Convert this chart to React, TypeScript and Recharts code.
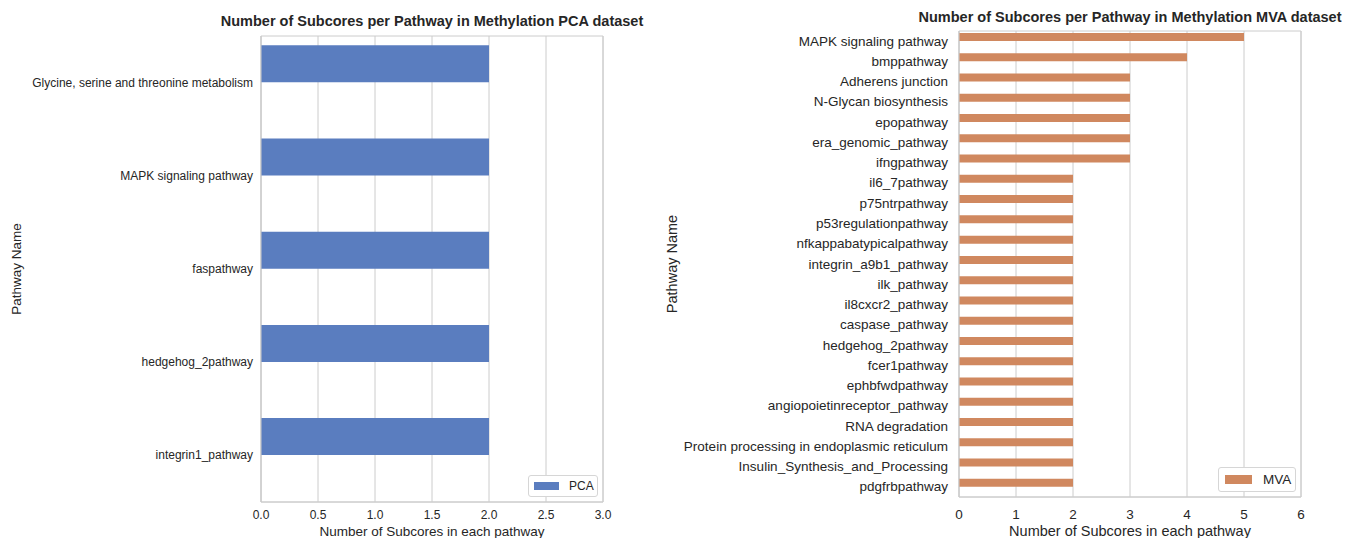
import { Bar, BarChart, CartesianGrid, Legend, ReferenceArea, XAxis, YAxis } from 'recharts'

const FONT = '"Liberation Sans", Arial, Helvetica, sans-serif'
const TEXT = '#262626'
const GRID = '#cccccc'

const pcaPathways = [
  'Glycine, serine and threonine metabolism',
  'MAPK signaling pathway',
  'faspathway',
  'hedgehog_2pathway',
  'integrin1_pathway',
]
const pcaSubcores = [2, 2, 2, 2, 2]
const pcaTicks = [0, 0.5, 1, 1.5, 2, 2.5, 3]

const mvaPathways = [
  'MAPK signaling pathway',
  'bmppathway',
  'Adherens junction',
  'N-Glycan biosynthesis',
  'epopathway',
  'era_genomic_pathway',
  'ifngpathway',
  'il6_7pathway',
  'p75ntrpathway',
  'p53regulationpathway',
  'nfkappabatypicalpathway',
  'integrin_a9b1_pathway',
  'ilk_pathway',
  'il8cxcr2_pathway',
  'caspase_pathway',
  'hedgehog_2pathway',
  'fcer1pathway',
  'ephbfwdpathway',
  'angiopoietinreceptor_pathway',
  'RNA degradation',
  'Protein processing in endoplasmic reticulum',
  'Insulin_Synthesis_and_Processing',
  'pdgfrbpathway',
]
const mvaSubcores = [5, 4, 3, 3, 3, 3, 3, 2, 2, 2, 2, 2, 2, 2, 2, 2, 2, 2, 2, 2, 2, 2, 2]
const mvaTicks = [0, 1, 2, 3, 4, 5, 6]

const toRows = (names: string[], counts: number[]) =>
  names.map((name, i) => ({ name, value: counts[i] }))

const Panel = (props: any) => {
  const {
    title,
    series,
    color,
    rows,
    ticks,
    left,
    width,
    top,
    right,
    yWidth,
    xHeight,
    tickSize,
    labelSize,
    yTickMargin,
    xTickMargin,
    yLabelX,
    xLabelDrop,
    titleTop,
    fmt,
    legend,
  } = props

  const plotWidth = width - yWidth - right
  const lo = ticks[0]
  const hi = ticks[ticks.length - 1]

  const xLabelContent = ({ viewBox }: any) => (
    <text
      x={viewBox.x + viewBox.width / 2}
      y={viewBox.y + xLabelDrop}
      textAnchor="middle"
      fontSize={labelSize}
      fill={TEXT}
    >
      Number of Subcores in each pathway
    </text>
  )

  const yLabelContent = ({ viewBox }: any) => {
    const cy = viewBox.y + viewBox.height / 2
    return (
      <text
        x={yLabelX}
        y={cy}
        transform={`rotate(-90 ${yLabelX} ${cy})`}
        textAnchor="middle"
        dominantBaseline="central"
        fontSize={labelSize}
        fill={TEXT}
      >
        Pathway Name
      </text>
    )
  }

  // plain text ticks so long names never wrap
  const yTick = ({ x, y, payload }: any) => (
    <text x={x} y={y} textAnchor="end" dominantBaseline="central" fontSize={tickSize} fill={TEXT}>
      {payload.value}
    </text>
  )

  const legendContent = () => (
    <div
      style={{
        boxSizing: 'border-box',
        width: legend.w,
        height: legend.h,
        border: '1px solid #d6d6d6',
        borderRadius: 3,
        background: '#fff',
        display: 'flex',
        alignItems: 'center',
        fontSize: legend.font,
        color: TEXT,
      }}
    >
      <span
        style={{
          display: 'inline-block',
          width: legend.sw,
          height: legend.sh,
          background: color,
          marginLeft: legend.pad,
          marginRight: legend.gap,
        }}
      />
      <span>{series}</span>
    </div>
  )

  return (
    <div style={{ position: 'absolute', left, top: 0, width, height: 538, fontFamily: FONT }}>
      <div
        style={{
          position: 'absolute',
          left: yWidth + plotWidth / 2 - 300,
          top: titleTop,
          width: 600,
          textAlign: 'center',
          whiteSpace: 'nowrap',
          fontSize: 14.5,
          fontWeight: 'bold',
          color: TEXT,
          lineHeight: '17px',
        }}
      >
        {title}
      </div>
      <BarChart
        width={width}
        height={538}
        data={rows}
        layout="vertical"
        margin={{ top, right, bottom: 0, left: 0 }}
        barCategoryGap="10%"
        barGap={0}
      >
        <CartesianGrid horizontal={false} stroke={GRID} />
        <ReferenceArea x1={lo} x2={hi} fill="none" stroke={GRID} strokeOpacity={1} />
        <XAxis
          type="number"
          domain={[lo, hi]}
          ticks={ticks}
          tickFormatter={fmt}
          height={xHeight}
          tickLine={false}
          tickMargin={xTickMargin}
          axisLine={{ stroke: GRID }}
          tick={{ fill: TEXT, fontSize: tickSize }}
          label={{ content: xLabelContent }}
        />
        <YAxis
          type="category"
          dataKey="name"
          width={yWidth}
          interval={0}
          tickLine={false}
          tickMargin={yTickMargin}
          axisLine={{ stroke: GRID }}
          tick={yTick}
          label={{ content: yLabelContent }}
        />
        <Legend
          layout="horizontal"
          align="center"
          verticalAlign="middle"
          content={legendContent}
          wrapperStyle={{ left: legend.x, top: legend.y, width: legend.w, height: legend.h }}
        />
        <Bar dataKey="value" name={series} fill={color} isAnimationActive={false} />
        <Bar dataKey="spacer" fill="none" legendType="none" isAnimationActive={false} />
      </BarChart>
    </div>
  )
}

export default function App() {
  return (
    <div
      style={{
        position: 'absolute',
        left: 0,
        top: 0,
        width: 1349,
        height: 538,
        background: '#fff',
        overflow: 'hidden',
      }}
    >
      <Panel
        title="Number of Subcores per Pathway in Methylation PCA dataset"
        series="PCA"
        color="#5a7dbf"
        rows={toRows(pcaPathways, pcaSubcores)}
        ticks={pcaTicks}
        fmt={(v: number) => v.toFixed(1)}
        left={0}
        width={660}
        top={36}
        right={57}
        yWidth={261}
        xHeight={36}
        tickSize={12}
        labelSize={13.5}
        yTickMargin={2}
        xTickMargin={2}
        yLabelX={16}
        xLabelDrop={34}
        titleTop={13}
        legend={{ x: 528, y: 475, w: 70, h: 22, font: 12, sw: 25, sh: 8, pad: 5, gap: 10 }}
      />
      <Panel
        title="Number of Subcores per Pathway in Methylation MVA dataset"
        series="MVA"
        color="#d0885f"
        rows={toRows(mvaPathways, mvaSubcores)}
        ticks={mvaTicks}
        fmt={(v: number) => String(v)}
        left={660}
        width={689}
        top={31}
        right={48}
        yWidth={299}
        xHeight={41}
        tickSize={13.5}
        labelSize={14.5}
        yTickMargin={5}
        xTickMargin={6}
        yLabelX={12}
        xLabelDrop={39}
        titleTop={9}
        legend={{ x: 558, y: 467, w: 78, h: 25, font: 13.5, sw: 27, sh: 9, pad: 6, gap: 11 }}
      />
    </div>
  )
}
